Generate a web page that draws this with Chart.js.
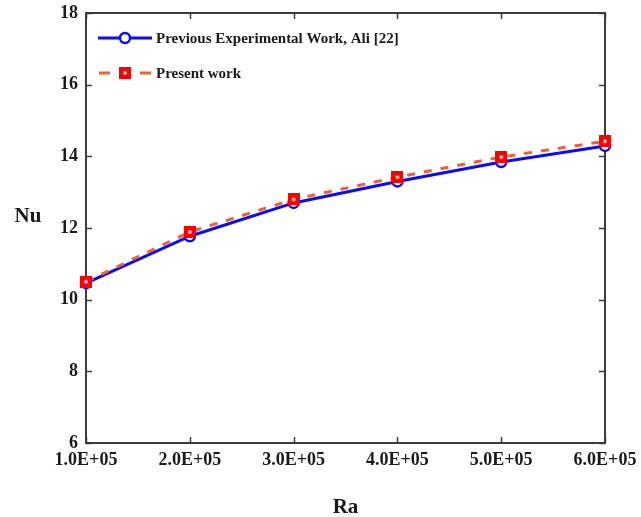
<!DOCTYPE html>
<html>
<head>
<meta charset="utf-8">
<script src="https://cdn.jsdelivr.net/npm/chart.js@4/dist/chart.umd.min.js"></script>
<style>
  html, body { margin: 0; padding: 0; background: #ffffff; }
  canvas { display: block; }
</style>
</head>
<body>
<canvas id="chart" width="641" height="517"></canvas>
<script>
// Rayleigh numbers and the matching Nusselt numbers
const rayleigh = [1e5, 2e5, 3e5, 4e5, 5e5, 6e5];
const nuAli = [10.46, 11.77, 12.70, 13.30, 13.84, 14.29];
const nuPresent = [10.50, 11.89, 12.80, 13.42, 13.98, 14.42];
const yTicks = [6, 8, 10, 12, 14, 16, 18];
const seriesNames = ['Previous Experimental Work, Ali [22]', 'Present work'];
const axisTitles = { x: 'Ra', y: 'Nu' };

const SERIF = '"Liberation Serif", "Times New Roman", serif';
const AXIS_COLOR = '#3c3c3c';
const BLUE = '#0a0aff';
const ORANGE = '#f0602a';
const RED = '#ff0000';

// Red square marker with a small white centre
function squareMarker(size) {
  const c = document.createElement('canvas');
  c.width = size; c.height = size;
  const g = c.getContext('2d');
  g.fillStyle = RED;
  g.fillRect(0, 0, size, size);
  g.fillStyle = '#ffffff';
  const d = 3;
  g.fillRect((size - d) / 2, (size - d) / 2, d, d);
  return c;
}
const squareImg = squareMarker(12);

function sciLabel(v) {
  const parts = Number(v).toExponential(1).split('e');
  const sign = parts[1][0] === '-' ? '-' : '+';
  const exp = parts[1].replace(/^[+-]/, '').padStart(2, '0');
  return parts[0] + 'E' + sign + exp;
}

// Frame with inward ticks on all four sides, plus titles and legend
const framePlugin = {
  id: 'frame',
  beforeDatasetsDraw(chart) {
    const { ctx, chartArea: a, scales } = chart;
    ctx.save();
    ctx.strokeStyle = AXIS_COLOR;
    ctx.lineWidth = 1.5;
    const len = 6;
    ctx.beginPath();
    scales.x.ticks.forEach(t => {
      const px = Math.round(scales.x.getPixelForValue(t.value)) + 0.5;
      ctx.moveTo(px, a.bottom); ctx.lineTo(px, a.bottom - len);
      ctx.moveTo(px, a.top); ctx.lineTo(px, a.top + len);
    });
    scales.y.ticks.forEach(t => {
      const py = Math.round(scales.y.getPixelForValue(t.value)) + 0.5;
      ctx.moveTo(a.left, py); ctx.lineTo(a.left + len, py);
      ctx.moveTo(a.right, py); ctx.lineTo(a.right - len, py);
    });
    ctx.stroke();
    ctx.lineWidth = 2;
    ctx.strokeRect(a.left, a.top, a.right - a.left, a.bottom - a.top);
    ctx.restore();
  },
  afterDraw(chart) {
    const { ctx, chartArea: a, data } = chart;
    ctx.save();
    // axis titles
    ctx.fillStyle = '#1a1a1a';
    ctx.font = 'bold 21px ' + SERIF;
    ctx.textAlign = 'center';
    ctx.textBaseline = 'middle';
    ctx.fillText(axisTitles.y, 28, 217);
    ctx.fillText(axisTitles.x, (a.left + a.right) / 2, 508);

    // legend
    const x0 = a.left + 12, x1 = a.left + 66, xm = (x0 + x1) / 2;
    const rows = [a.top + 25, a.top + 60];
    ctx.font = 'bold 15px ' + SERIF;
    ctx.textAlign = 'left';

    const d0 = data.datasets[0];
    ctx.strokeStyle = d0.borderColor;
    ctx.lineWidth = d0.borderWidth;
    ctx.beginPath();
    ctx.moveTo(x0, rows[0]); ctx.lineTo(x1, rows[0]);
    ctx.stroke();
    ctx.beginPath();
    ctx.arc(xm, rows[0], d0.pointRadius, 0, Math.PI * 2);
    ctx.fillStyle = d0.pointBackgroundColor;
    ctx.fill();
    ctx.lineWidth = d0.pointBorderWidth;
    ctx.strokeStyle = d0.pointBorderColor;
    ctx.stroke();
    ctx.fillStyle = '#1a1a1a';
    ctx.fillText(d0.label, x1 + 4, rows[0] + 1);

    const d1 = data.datasets[1];
    ctx.strokeStyle = d1.borderColor;
    ctx.lineWidth = d1.borderWidth;
    ctx.beginPath();
    ctx.moveTo(x0 + 1, rows[1]); ctx.lineTo(x0 + 12, rows[1]);
    ctx.moveTo(x1 - 12, rows[1]); ctx.lineTo(x1 - 1, rows[1]);
    ctx.stroke();
    ctx.drawImage(squareImg, xm - 6, rows[1] - 6);
    ctx.fillStyle = '#1a1a1a';
    ctx.fillText(d1.label, x1 + 4, rows[1] + 1);
    ctx.restore();
  }
};

new Chart(document.getElementById('chart'), {
  type: 'line',
  data: {
    datasets: [
      {
        label: seriesNames[0],
        data: rayleigh.map((r, i) => ({ x: r, y: nuAli[i] })),
        borderColor: BLUE,
        borderWidth: 3,
        pointStyle: 'circle',
        pointRadius: 5,
        pointBorderWidth: 2.5,
        pointBorderColor: BLUE,
        pointBackgroundColor: '#ffffff',
        tension: 0,
        clip: false,
        order: 2
      },
      {
        label: seriesNames[1],
        data: rayleigh.map((r, i) => ({ x: r, y: nuPresent[i] })),
        borderColor: ORANGE,
        borderWidth: 3,
        borderDash: [8, 9],
        pointStyle: squareImg,
        pointRadius: 6,
        tension: 0,
        clip: false,
        order: 1
      }
    ]
  },
  options: {
    responsive: false,
    animation: false,
    events: [],
    layout: { padding: { left: 0, top: 13, right: 36, bottom: 0 } },
    plugins: {
      legend: { display: false },
      tooltip: { enabled: false },
      title: { display: false }
    },
    scales: {
      x: {
        type: 'linear',
        min: rayleigh[0],
        max: rayleigh[rayleigh.length - 1],
        afterBuildTicks(scale) {
          scale.ticks = rayleigh.map(v => ({ value: v }));
        },
        afterFit(scale) {
          scale.height = 74;
          scale.paddingLeft = 0;
          scale.paddingRight = 0;
        },
        grid: { display: false, drawTicks: false },
        border: { display: false },
        ticks: {
          autoSkip: false,
          maxRotation: 0,
          padding: 7,
          color: '#1a1a1a',
          font: { family: SERIF, size: 18, weight: 'bold' },
          callback: v => sciLabel(v)
        }
      },
      y: {
        min: yTicks[0],
        max: yTicks[yTicks.length - 1],
        afterBuildTicks(scale) {
          scale.ticks = yTicks.map(v => ({ value: v }));
        },
        afterFit(scale) {
          scale.width = 86;
          scale.paddingTop = 0;
          scale.paddingBottom = 0;
        },
        grid: { display: false, drawTicks: false },
        border: { display: false },
        ticks: {
          padding: 8,
          color: '#1a1a1a',
          font: { family: SERIF, size: 18, weight: 'bold' },
          callback: v => String(v)
        }
      }
    }
  },
  plugins: [framePlugin]
});
</script>
</body>
</html>
